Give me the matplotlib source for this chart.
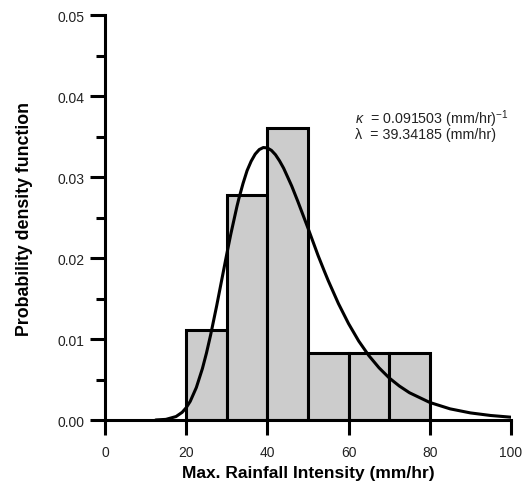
import matplotlib
matplotlib.use('Agg')
import matplotlib.pyplot as plt
from matplotlib.ticker import MultipleLocator

# histogram (density)
bin_edges = [20, 30, 40, 50, 60, 70, 80]
bin_density = [0.0111, 0.0278, 0.0361, 0.00833, 0.00833, 0.00833]

# fitted curve, points
curve_x = [12.5, 15, 17.5, 19, 20, 21, 22.5, 24, 25, 26, 27.5, 29, 30, 31,
           32.5, 33, 34, 35, 36, 37, 38, 39, 40, 41, 42, 43, 44, 45, 46,
           47.5, 48, 50, 52.5, 54, 55, 57.5, 60, 62.5, 65, 67.5, 70, 72.5,
           75, 80, 85, 90, 95, 100]
curve_y = [0.00001, 0.00008, 0.00043, 0.00095, 0.00152, 0.00231, 0.00401,
           0.00636, 0.00828, 0.01046, 0.01408, 0.01793, 0.0205, 0.02298,
           0.02637, 0.02739, 0.02921, 0.0308, 0.03196, 0.03284, 0.0334,
           0.03365, 0.0336, 0.0333, 0.03276, 0.0320, 0.0311, 0.0300, 0.02889,
           0.0270, 0.02634, 0.0237, 0.0203, 0.01842, 0.0172, 0.01438, 0.0119,
           0.00975, 0.00795, 0.00645, 0.0052, 0.0042, 0.00337, 0.00217,
           0.00138, 0.00088, 0.00056, 0.00035]

kappa_text = r"$\kappa$  = 0.091503 (mm/hr)$^{-1}$"
lambda_text = "λ  = 39.34185 (mm/hr)"

plt.rcParams['font.family'] = ['Liberation Sans', 'DejaVu Sans']
plt.rcParams['mathtext.fontset'] = 'custom'
plt.rcParams['mathtext.rm'] = 'Liberation Sans'
plt.rcParams['mathtext.it'] = 'Liberation Sans:italic'

fig = plt.figure(figsize=(5.31, 4.89), dpi=100)
ax = fig.add_axes([0.1977, 0.139, 0.7646, 0.828])

widths = [bin_edges[i + 1] - bin_edges[i] for i in range(len(bin_density))]
ax.bar(bin_edges[:-1], bin_density, width=widths, align='edge',
       color='#cccccc', edgecolor='black', linewidth=2.2, zorder=2)
ax.plot(curve_x, curve_y, color='black', linewidth=2.2, zorder=3,
        solid_capstyle='round', solid_joinstyle='round')

ax.set_xlim(0, 100)
ax.set_ylim(0, 0.05)
ax.xaxis.set_major_locator(MultipleLocator(20))
ax.yaxis.set_major_locator(MultipleLocator(0.01))
ax.yaxis.set_minor_locator(MultipleLocator(0.005))
ax.yaxis.set_major_formatter(plt.FormatStrFormatter('%.2f'))

for side in ['top', 'right']:
    ax.spines[side].set_visible(False)
for side in ['left', 'bottom']:
    ax.spines[side].set_linewidth(2.2)
    ax.spines[side].set_zorder(4)

ax.tick_params(axis='both', which='major', length=11, width=2.2,
               labelsize=10, pad=4, color='black', labelcolor='#222222')
ax.tick_params(axis='x', which='major', pad=7)
ax.tick_params(axis='y', which='minor', length=6.5, width=2.2)

ax.set_xlabel("Max. Rainfall Intensity (mm/hr)", fontsize=12.5,
              fontweight='bold', labelpad=4)
ax.set_ylabel("Probability density function", fontsize=12.8,
              fontweight='bold', labelpad=17)

# both parameter lines in one text block
ax.text(61.6, 0.0365, kappa_text + "\n" + lambda_text, fontsize=10.3,
        color='#222222', va='center', ha='left', multialignment='left',
        linespacing=0.8)

fig.savefig('out.png', dpi=100)
